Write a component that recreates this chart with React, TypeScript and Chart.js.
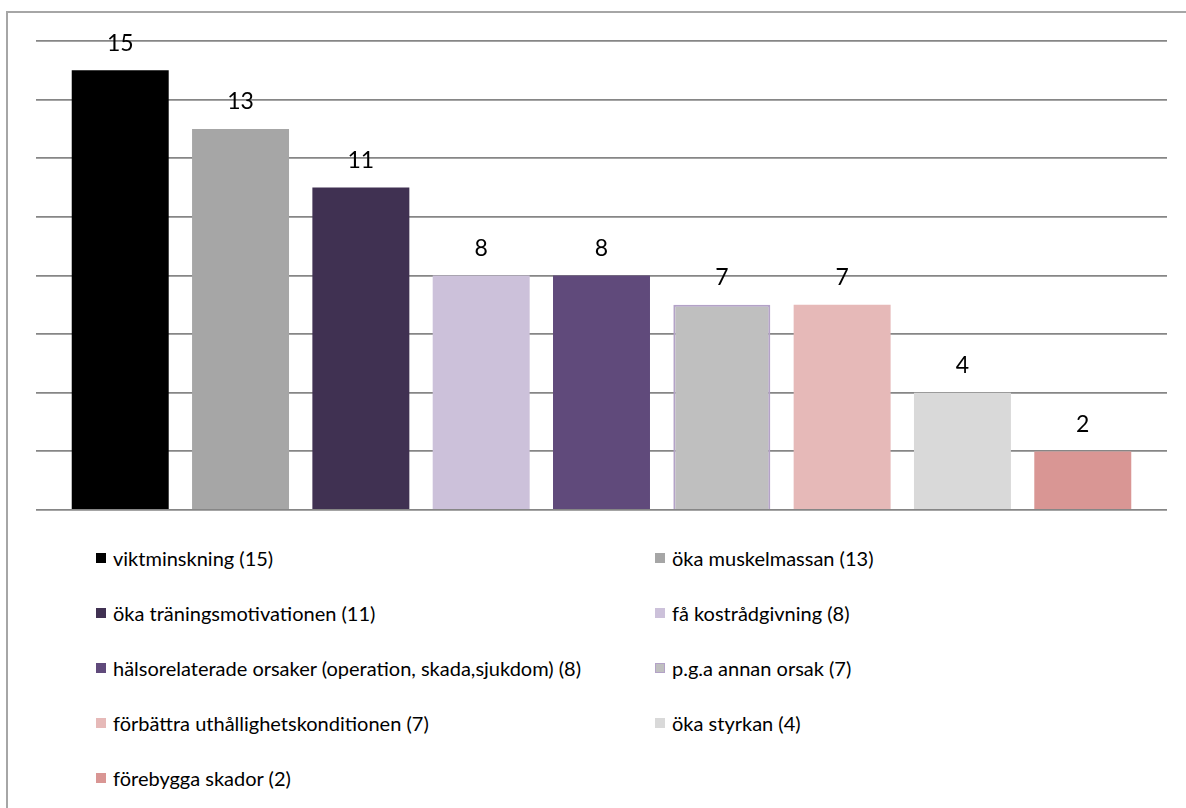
import React, { useEffect, useRef } from "react";
import { Chart, registerables } from "chart.js";

Chart.register(...registerables);

const categories = [
  "viktminskning",
  "öka muskelmassan",
  "öka träningsmotivationen",
  "få kostrådgivning",
  "hälsorelaterade orsaker (operation, skada,sjukdom)",
  "p.g.a annan orsak",
  "förbättra uthållighetskonditionen",
  "öka styrkan",
  "förebygga skador",
];

const counts = [15, 13, 11, 8, 8, 7, 7, 4, 2];

const barColors = [
  "#000000",
  "#a6a6a6",
  "#403152",
  "#ccc1da",
  "#604a7b",
  "#bfbfbf",
  "#e6b9b8",
  "#d9d9d9",
  "#d99694",
];

const barBorders = [
  "#000000",
  "#a6a6a6",
  "#403152",
  "#ccc1da",
  "#604a7b",
  "#b3a2c7",
  "#e6b9b8",
  "#d9d9d9",
  "#d99694",
];

const yTicks = [0, 2, 4, 6, 8, 10, 12, 14, 16];

const FONT = "Lato, 'Open Sans', sans-serif";

// Draws each bar's count centred above it
const valueLabels = {
  id: "valueLabels",
  afterDatasetsDraw(chart: any) {
    const ctx = chart.ctx;
    const meta = chart.getDatasetMeta(0);
    ctx.save();
    ctx.fillStyle = "#000";
    ctx.font = `23px ${FONT}`;
    ctx.textAlign = "center";
    ctx.textBaseline = "middle";
    meta.data.forEach((bar: any, i: number) => {
      ctx.fillText(String(counts[i]), bar.x, bar.y - 27);
    });
    ctx.restore();
  },
};

export default function App() {
  const ref = useRef<HTMLCanvasElement>(null);

  useEffect(() => {
    if (!ref.current) return;
    const chart = new Chart(ref.current, {
      type: "bar",
      data: {
        datasets: [
          {
            data: counts.map((v, i) => ({ x: i, y: v })),
            backgroundColor: barColors,
            borderColor: barBorders,
            borderWidth: barBorders.map((c, i) => (c !== barColors[i] ? 2 : 0)),
            categoryPercentage: 1,
            barPercentage: 0.806,
          },
        ],
      },
      options: {
        animation: false,
        responsive: false,
        layout: { padding: { left: 36, right: 19, top: 41, bottom: 20 } },
        plugins: { legend: { display: false }, tooltip: { enabled: false } },
        scales: {
          x: {
            type: "linear",
            min: -0.7,
            max: 8.7,
            offset: false,
            display: false,
            afterBuildTicks: (axis: any) => {
              axis.ticks = counts.map((_, i) => ({ value: i }));
            },
          },
          y: {
            min: 0,
            max: 16,
            afterBuildTicks: (axis: any) => {
              axis.ticks = yTicks.map((v) => ({ value: v }));
            },
            ticks: { display: false },
            grid: { color: "#868686", lineWidth: 1.8, drawTicks: false },
            border: { display: false },
          },
        },
      },
      plugins: [valueLabels],
    });
    return () => chart.destroy();
  }, []);

  const rows: number[][] = [];
  for (let i = 0; i < categories.length; i += 2) {
    rows.push([i, i + 1].filter((k) => k < categories.length));
  }

  return (
    <div
      style={{
        position: "fixed",
        left: 0,
        top: 0,
        width: 1186,
        height: 808,
        overflow: "hidden",
        background: "#fff",
        fontFamily: FONT,
      }}
    >
      <div
        style={{
          position: "absolute",
          left: 6,
          top: 11,
          width: 1300,
          height: 900,
          border: "2px solid #a6a6a6",
          boxSizing: "border-box",
        }}
      />
      <canvas
        ref={ref}
        width={1186}
        height={530}
        style={{ position: "absolute", left: 0, top: 0, width: 1186, height: 530 }}
      />
      {rows.map((row, r) =>
        row.map((k, c) => (
          <div
            key={k}
            style={{
              position: "absolute",
              left: c === 0 ? 96 : 655,
              top: 558 + r * 55 - 12,
              height: 24,
              display: "flex",
              alignItems: "center",
              fontSize: 20,
              color: "#000",
              whiteSpace: "nowrap",
            }}
          >
            <span
              style={{
                display: "inline-block",
                width: 10,
                height: 10,
                marginRight: 7,
                background: barColors[k],
                border: barBorders[k] !== barColors[k] ? `1.5px solid ${barBorders[k]}` : "none",
                boxSizing: "border-box",
              }}
            />
            <span>{`${categories[k]} (${counts[k]})`}</span>
          </div>
        ))
      )}
    </div>
  );
}
